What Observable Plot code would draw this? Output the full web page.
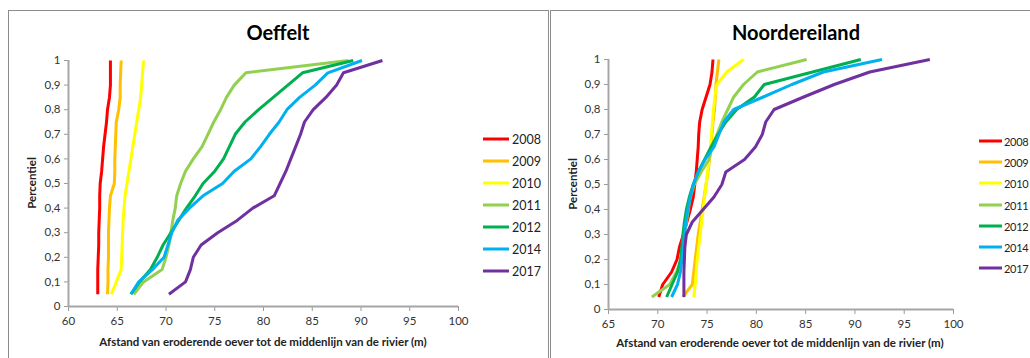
<!DOCTYPE html>
<html>
<head>
<meta charset="utf-8">
<script src="https://cdn.jsdelivr.net/npm/d3@7"></script>
<script src="https://cdn.jsdelivr.net/npm/@observablehq/plot@0.6"></script>
<style>
  html, body { margin: 0; padding: 0; background: #fff; }
  body { width: 1030px; height: 358px; overflow: hidden; position: relative; font-family: Lato, "Open Sans", sans-serif; }
  .panel { position: absolute; top: 10px; height: 400px; border: 1px solid #8c8c8c; box-sizing: border-box; }
  .chart { position: absolute; top: 0; }
  .chart svg text { font-family: Lato, "Open Sans", sans-serif; }
  .title { position: absolute; font-weight: bold; font-size: 20px; color: #000; transform: translate(-50%, -50%); white-space: nowrap; }
  .xtitle { position: absolute; font-weight: bold; font-size: 11.5px; color: #222; transform: translate(-50%, -50%); white-space: nowrap; }
  .ytitle { position: absolute; font-weight: bold; font-size: 11.5px; color: #222; transform: translate(-50%, -50%) rotate(-90deg); white-space: nowrap; }
  .leg { position: absolute; display: flex; align-items: center; font-size: 12.5px; color: #222; transform: translateY(-50%); white-space: nowrap; }
  .leg.r { font-size: 11px; letter-spacing: -0.3px; }
  .leg span.sw { display: inline-block; height: 3px; margin-right: 3px; }
  .leg.r span.sw { margin-right: 2px; }
</style>
</head>
<body>
<div class="panel" style="left:8px; width:541px;"></div>
<div class="panel" style="left:550px; width:500px;"></div>
<div id="left" class="chart" style="left:0px;"></div>
<div id="right" class="chart" style="left:550px;"></div>
<div id="labels"></div>
<script>
// ---- data ----
const years = ["2008", "2009", "2010", "2011", "2012", "2014", "2017"];
const colors = ["#FF0000", "#FFC000", "#FFFF00", "#92D050", "#00B050", "#00B0F0", "#7030A0"];
const percentiles = [0.05, 0.1, 0.15, 0.2, 0.25, 0.3, 0.35, 0.4, 0.45, 0.5, 0.55, 0.6, 0.65, 0.7, 0.75, 0.8, 0.85, 0.9, 0.95, 1];

// Oeffelt
const oef2008 = [63.0, 63.0, 63.0, 63.05, 63.1, 63.1, 63.15, 63.2, 63.2, 63.25, 63.4, 63.5, 63.6, 63.75, 63.9, 64.0, 64.2, 64.3, 64.3, 64.3];
const oef2009 = [64.0, 64.05, 64.05, 64.1, 64.1, 64.1, 64.15, 64.2, 64.3, 64.7, 64.75, 64.75, 64.8, 64.85, 64.9, 65.15, 65.3, 65.3, 65.35, 65.4];
const oef2010 = [64.4, 64.9, 65.4, 65.45, 65.5, 65.55, 65.6, 65.7, 65.8, 66.0, 66.2, 66.4, 66.6, 66.8, 67.0, 67.2, 67.4, 67.5, 67.6, 67.7];
const oef2011 = [66.7, 67.7, 69.6, 70.0, 70.3, 70.5, 70.7, 70.95, 71.1, 71.5, 72.0, 72.8, 73.7, 74.3, 74.9, 75.6, 76.2, 77.0, 78.2, 88.7];
const oef2012 = [66.4, 67.3, 68.4, 69.1, 69.7, 70.5, 71.3, 72.1, 73.0, 73.8, 75.0, 75.9, 76.5, 77.1, 78.1, 79.5, 81.0, 82.5, 84.0, 89.2];
const oef2014 = [66.4, 67.2, 68.6, 69.8, 70.2, 70.6, 71.2, 72.4, 73.8, 75.8, 77.0, 78.7, 79.7, 80.6, 81.6, 82.4, 83.7, 85.3, 86.6, 90.1];
const oef2017 = [70.3, 72.0, 72.5, 72.8, 73.6, 75.3, 77.3, 78.9, 81.1, 81.7, 82.3, 82.8, 83.3, 83.8, 84.2, 85.1, 86.4, 87.5, 88.2, 92.2];

// Noordereiland
const nrd2008 = [70.1, 70.5, 71.4, 71.95, 72.2, 72.6, 72.95, 73.3, 73.6, 73.75, 73.9, 74.0, 74.1, 74.15, 74.25, 74.5, 74.9, 75.3, 75.5, 75.6];
const nrd2009 = [72.55, 73.5, 73.65, 73.8, 73.95, 74.1, 74.3, 74.5, 74.7, 74.9, 75.1, 75.25, 75.4, 75.5, 75.6, 75.75, 75.85, 75.9, 76.05, 76.2];
const nrd2010 = [73.65, 73.8, 73.9, 74.0, 74.15, 74.3, 74.45, 74.6, 74.75, 74.9, 75.05, 75.2, 75.35, 75.45, 75.55, 75.65, 75.8, 76.0, 77.0, 78.7];
const nrd2011 = [69.4, 71.2, 71.9, 72.4, 72.6, 72.7, 72.9, 73.1, 73.3, 73.7, 74.4, 75.2, 75.5, 76.0, 76.5, 77.1, 77.7, 78.7, 80.1, 85.1];
const nrd2012 = [70.9, 71.45, 72.0, 72.3, 72.45, 72.55, 72.7, 72.9, 73.2, 73.6, 74.1, 74.75, 75.4, 76.1, 76.9, 78.0, 79.8, 80.8, 85.7, 90.6];
const nrd2014 = [71.4, 72.0, 72.3, 72.45, 72.6, 72.7, 72.85, 73.05, 73.3, 73.6, 74.1, 74.8, 75.7, 76.2, 76.7, 77.7, 80.7, 83.6, 86.8, 92.75];
const nrd2017 = [72.65, 72.65, 72.65, 72.7, 72.75, 72.9, 73.5, 74.6, 75.7, 76.5, 76.9, 78.8, 79.9, 80.6, 80.95, 81.8, 84.8, 87.9, 91.5, 97.6];

const xTicksLeft = [60, 65, 70, 75, 80, 85, 90, 95, 100];
const xTicksRight = [65, 70, 75, 80, 85, 90, 95, 100];
const yTicks = [0, 0.1, 0.2, 0.3, 0.4, 0.5, 0.6, 0.7, 0.8, 0.9, 1];
const yTickLabels = ["0", "0,1", "0,2", "0,3", "0,4", "0,5", "0,6", "0,7", "0,8", "0,9", "1"];

const titleLeft = "Oeffelt";
const titleRight = "Noordereiland";
const xTitle = "Afstand van eroderende oever tot de middenlijn van de rivier (m)";
const yTitle = "Percentiel";

// ---- build tables ----
function table(seriesList) {
  const rows = [];
  seriesList.forEach((vals, k) => {
    vals.forEach((v, i) => rows.push({year: years[k], p: percentiles[i], v}));
  });
  return rows;
}
const leftRows = table([oef2008, oef2009, oef2010, oef2011, oef2012, oef2014, oef2017]);
const rightRows = table([nrd2008, nrd2009, nrd2010, nrd2011, nrd2012, nrd2014, nrd2017]);

function makeChart(rows, xTicks, opts) {
  return Plot.plot({
    width: opts.width,
    height: 358,
    marginLeft: opts.ml,
    marginRight: opts.mr,
    marginTop: opts.mt,
    marginBottom: opts.mb,
    style: {background: "none", fontSize: "11.5px", color: "#333", overflow: "visible"},
    x: {domain: [xTicks[0], 100]},
    y: {domain: [0, 1]},
    color: {domain: years, range: colors},
    marks: [
      Plot.axisX({ticks: xTicks, tickSize: 5, tickPadding: 5, stroke: "#9a9a9a", fill: "#333", label: null, tickFormat: d => String(d)}),
      Plot.axisY({ticks: yTicks, tickSize: 4, tickPadding: 4, stroke: "#9a9a9a", fill: "#333", label: null,
        tickFormat: d => yTickLabels[yTicks.indexOf(d)]}),
      Plot.ruleY([0], {stroke: "#a6a6a6", strokeWidth: 2}),
      Plot.ruleX([xTicks[0]], {stroke: "#a6a6a6", strokeWidth: 2}),
      Plot.line(rows, {x: "v", y: "p", z: "year", stroke: "year", strokeWidth: 3, strokeLinejoin: "round", strokeLinecap: "butt"})
    ]
  });
}

document.getElementById("left").appendChild(
  makeChart(leftRows, xTicksLeft, {width: 548, ml: 68, mr: 90, mt: 60, mb: 52})
);
document.getElementById("right").appendChild(
  makeChart(rightRows, xTicksRight, {width: 480, ml: 58, mr: 77, mt: 59, mb: 49})
);

// ---- titles, axis titles, legends ----
const lab = document.getElementById("labels");
function add(cls, text, x, y) {
  const d = document.createElement("div");
  d.className = cls;
  d.textContent = text;
  d.style.left = x + "px";
  d.style.top = y + "px";
  lab.appendChild(d);
}
add("title", titleLeft, 278, 32);
add("title", titleRight, 796, 32);
add("xtitle", xTitle, 263, 341);
add("xtitle", xTitle, 780, 342);
add("ytitle", yTitle, 31, 183);
add("ytitle", yTitle, 572, 184);

function legend(x, y0, dy, sw, cls) {
  years.forEach((yr, i) => {
    const d = document.createElement("div");
    d.className = cls;
    d.style.left = x + "px";
    d.style.top = (y0 + i * dy) + "px";
    const s = document.createElement("span");
    s.className = "sw";
    s.style.width = sw + "px";
    s.style.background = colors[i];
    d.appendChild(s);
    d.appendChild(document.createTextNode(yr));
    lab.appendChild(d);
  });
}
legend(483, 139, 22, 26, "leg");
legend(979, 141, 21.2, 23, "leg r");
</script>
</body>
</html>
